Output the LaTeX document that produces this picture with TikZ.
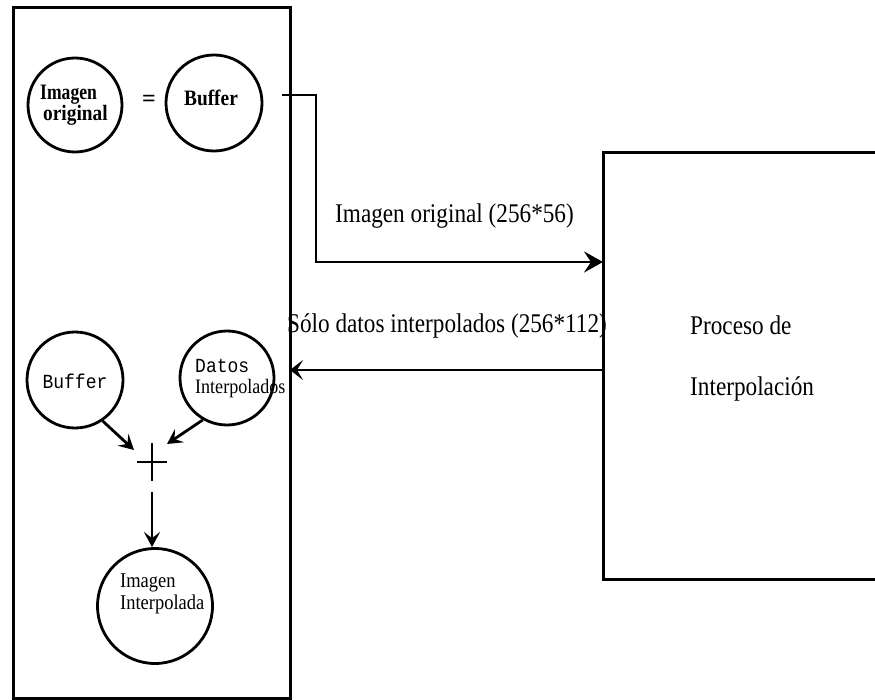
\documentclass[tikz,border=0pt]{standalone}
\usepackage{fontspec}
\setmainfont{Liberation Serif}
\setmonofont{Liberation Mono}
% condensed cuts of the serif and mono faces
\newfontfamily\labfont[FakeStretch=0.86]{Liberation Serif}
\newfontfamily\tightbold[FakeStretch=0.8]{Liberation Serif}
\newfontfamily\bubblefont[FakeStretch=0.88]{Liberation Serif}
\newfontfamily\bubblemono[FakeStretch=0.9]{Liberation Mono}
\usetikzlibrary{arrows.meta}
\begin{document}
\begin{tikzpicture}[x=1pt,y=-1pt,
  frame/.style={draw, line width=3pt},
  bubble/.style={circle, draw, line width=2.8pt, inner sep=0pt},
  flow/.style={line width=2.8pt, -{Stealth[length=19pt,width=21pt,inset=7pt]}},
  backflow/.style={line width=2.8pt, -{Stealth[length=13pt,width=20pt,inset=6pt]}},
  mergearrow/.style={line width=2.8pt, -{Stealth[length=15pt,width=16pt,inset=6pt]}},
  lab/.style={inner sep=0pt, anchor=base west, font=\labfont\fontsize{27}{30}\selectfont},
  ctext/.style={inner sep=0pt, anchor=base west}]
\useasboundingbox (0,0) rectangle (875,700);
\fill[white] (0,0) rectangle (875,700);

% left panel: buffers and combination
\node[frame, inner sep=0pt, minimum width=277pt, minimum height=691pt,
      anchor=north west] (leftbox) at (12,6) {};

% top row: original image equals buffer
\node[bubble, minimum size=94pt] (orig) at (75,105) {};
\node[ctext, font=\tightbold\bfseries\fontsize{22}{24}\selectfont] (origt1) at (40,100) {Imagen};
\node[ctext, font=\bubblefont\bfseries\fontsize{22}{24}\selectfont] (origt2) at (43,121) {original};
\node[inner sep=0pt, font=\bfseries\fontsize{24}{26}\selectfont] (eq) at (149,101) {=};
\node[bubble, minimum size=96pt] (buf) at (214,103) {};
\node[inner sep=0pt, anchor=base, font=\bubblefont\bfseries\fontsize{22}{24}\selectfont] (buft) at (211,106) {Buffer};

% outgoing transfer
\coordinate (tap) at (282,95);
\coordinate (inA) at (603,262);
\draw[flow] (tap) -- (316,95) |- (inA);
\node[lab] (lblA) at (335,223) {Imagen original (256*56)};

% returning transfer
\coordinate (outB) at (603,370);
\coordinate (inB) at (290,370);
\draw[backflow] (outB) -- (inB);
\node[lab] (lblB) at (287,333) {Sólo datos interpolados (256*112)};

% right panel: interpolation process (open on the right)
\coordinate (pTL) at (603,153);
\coordinate (pBL) at (603,579);
\draw[line width=3pt] (875,153) -- (pTL) -- (pBL) -- (875,579);
\node[lab] (proc1) at (690,335) {Proceso de};
\node[lab] (proc2) at (690,395) {Interpolación};

% bottom row: buffer plus interpolated data
\node[bubble, minimum size=96pt] (buf2) at (75,380) {};
\node[inner sep=0pt, anchor=base, font=\bubblemono\fontsize{20}{22}\selectfont] (buf2t) at (75,388) {Buffer};
\node[bubble, minimum size=94pt] (dat) at (227,378) {};
\node[ctext, font=\bubblemono\fontsize{20}{22}\selectfont] (datt1) at (195,373) {Datos};
\node[ctext, font=\bubblefont\fontsize{20.5}{22}\selectfont] (datt2) at (195,393) {Interpolados};

% sum sign
\coordinate (sum) at (152,462);
\draw[line width=2.8pt] (sum) ++(-15,0) -- ++(30,0);
\draw[line width=2.8pt] (sum) ++(0,-19) -- ++(0,38);
\coordinate (sumL) at (134,450);
\coordinate (sumR) at (167,444);
\coordinate (sumD) at (152,492);
\draw[mergearrow] (buf2.-56) -- (sumL);
\draw[mergearrow] (dat.-120) -- (sumR);

% result
\node[bubble, minimum size=115pt] (res) at (155,606) {};
\draw[mergearrow] (sumD) -- (sumD |- res.north);
\node[ctext, font=\bubblefont\fontsize{21}{24}\selectfont] (rest1) at (120,587) {Imagen};
\node[ctext, font=\bubblefont\fontsize{21}{24}\selectfont] (rest2) at (120,609) {Interpolada};
\end{tikzpicture}
\end{document}
